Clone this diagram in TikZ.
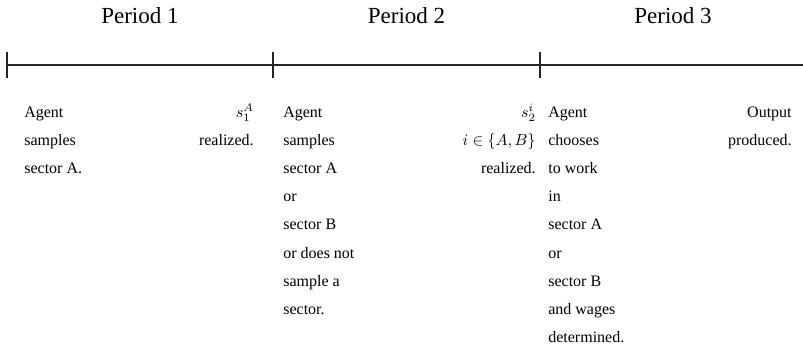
\documentclass[tikz,border=0pt]{standalone}
\usepackage{fontspec}
\setmainfont{Liberation Serif}
\usetikzlibrary{positioning}

\begin{document}
\begin{tikzpicture}[
  x=0.625pt, y=-0.625pt,
  axis/.style={line width=1pt,draw=black!85},
  tick/.style={line width=0.8pt,draw=black!85},
  period/.style={font=\Large,anchor=base,inner sep=0pt},
  txt/.style={inner sep=0pt,font=\fontsize{10}{17.6}\selectfont},
  lft/.style={txt,anchor=north west,align=left},
  rgt/.style={txt,anchor=north east,align=right}
]
\useasboundingbox (0,0) rectangle (803,351);
% time line
\coordinate (t1) at (7,65);
\coordinate (t2) at (273,65);
\coordinate (t3) at (540,65);
\coordinate (tend) at (806,65);
\draw[axis] (t1) -- (tend);
\foreach \t in {t1,t2,t3}
  \draw[tick] ([yshift=8.1pt]\t) -- ([yshift=-8.1pt]\t);
% periods
\node[period] (p1) at (140,23.3) {Period 1};
\node[period] (p2) at (406.5,23.3) {Period 2};
\node[period] (p3) at (673,23.3) {Period 3};
% events
\node[lft] (a1) at (24,97.3) {\strut Agent\\samples\\sector A.};
\node[rgt] (r1) at (254,97.3) {\strut$s_1^A$\\realized.};
\node[lft] (a2) at (283,97.3) {\strut Agent\\samples\\sector A\\or\\sector B\\or does not\\sample a\\sector.};
\node[rgt] (r2) at (536,97.3) {\strut$s_2^i$\\$i\in\{A,B\}$\\realized.};
\node[lft] (a3) at (548,97.3) {\strut Agent\\chooses\\to work\\in\\sector A\\or\\sector B\\and wages\\determined.};
\node[rgt] (r3) at (792,97.3) {\strut Output\\produced.};
\end{tikzpicture}
\end{document}
